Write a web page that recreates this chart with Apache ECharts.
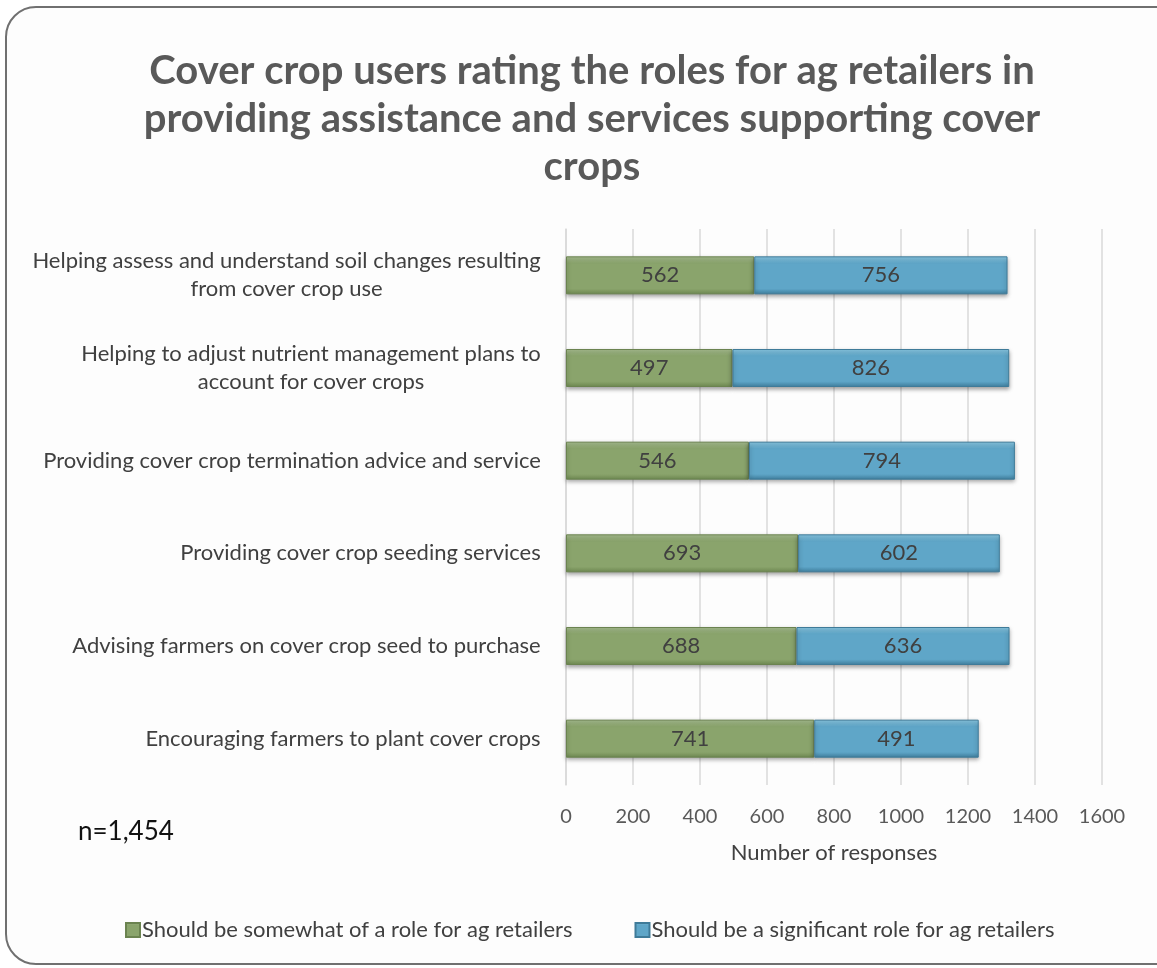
<!DOCTYPE html>
<html>
<head>
<meta charset="utf-8">
<script src="https://cdn.jsdelivr.net/npm/echarts@6/dist/echarts.min.js"></script>
<style>
  html, body { margin: 0; padding: 0; background: #fff; }
  #main { width: 1157px; height: 968px; }
</style>
</head>
<body>
<div id="main"></div>
<script>
// categories, top to bottom
var categories = [
  'Helping assess and understand soil changes resulting\nfrom cover crop use',
  'Helping to adjust nutrient management plans to\naccount for cover crops',
  'Providing cover crop termination advice and service',
  'Providing cover crop seeding services',
  'Advising farmers on cover crop seed to purchase',
  'Encouraging farmers to plant cover crops'
];
var somewhatRole = [562, 497, 546, 693, 688, 741];
var significantRole = [756, 826, 794, 602, 636, 491];
var seriesNames = [
  'Should be somewhat of a role for ag retailers',
  'Should be a significant role for ag retailers'
];
var xTicks = [0, 200, 400, 600, 800, 1000, 1200, 1400, 1600];

var FONT = 'Lato';
var myChart = echarts.init(document.getElementById('main'));

// measure label lines so that multi-line labels are centred line by line
var cv = document.createElement('canvas').getContext('2d');
cv.font = '22px ' + FONT;
var rich = {};
categories.forEach(function (c, i) {
  var w = 0;
  c.split('\n').forEach(function (l) { w = Math.max(w, cv.measureText(l).width); });
  rich['l' + i] = { width: Math.ceil(w) + 2, align: 'center', fontSize: 22, fontFamily: FONT, color: '#404040', lineHeight: 28 };
});

function barStyle(top, mid, bottom, border) {
  return {
    color: new echarts.graphic.LinearGradient(0, 0, 0, 1, [
      { offset: 0, color: top },
      { offset: 0.18, color: mid },
      { offset: 0.85, color: mid },
      { offset: 1, color: bottom }
    ]),
    borderColor: border,
    borderWidth: 1,
    shadowColor: 'rgba(0,0,0,0.35)',
    shadowBlur: 4,
    shadowOffsetY: 2
  };
}

var labelStyle = {
  show: true,
  position: 'inside',
  color: '#404040',
  fontSize: 22,
  fontFamily: FONT
};

var option = {
  animation: false,
  title: {
    text: 'Cover crop users rating the roles for ag retailers in\nproviding assistance and services supporting cover\ncrops',
    left: 587,
    top: 42,
    textAlign: 'center',
    textStyle: {
      fontSize: 40,
      fontWeight: 'bold',
      fontFamily: FONT,
      color: '#595959',
      lineHeight: 48
    }
  },
  graphic: [
    {
      type: 'rect',
      z: -10,
      shape: { x: 6, y: 7, width: 1180, height: 957, r: 30 },
      style: { fill: '#fdfdfd', stroke: '#707070', lineWidth: 2 }
    },
    {
      type: 'text',
      left: 78,
      top: 819,
      style: { text: 'n=1,454', fontSize: 26, fontFamily: FONT, fill: '#111' }
    }
  ],
  legend: {
    left: 120,
    top: 914,
    itemWidth: 14,
    itemHeight: 14,
    itemGap: 62,
    icon: 'rect',
    textStyle: { fontSize: 22, fontFamily: FONT, color: '#404040', padding: [0, 0, 0, -3] },
    data: seriesNames
  },
  grid: {
    left: 566,
    right: 55,
    top: 229,
    bottom: 183,
    containLabel: false
  },
  xAxis: {
    type: 'value',
    min: 0,
    max: 1600,
    interval: 200,
    name: 'Number of responses',
    nameLocation: 'middle',
    nameGap: 57,
    nameTextStyle: { fontSize: 22, fontFamily: FONT, color: '#404040' },
    axisLine: { show: false },
    axisTick: { show: false },
    axisLabel: {
      fontSize: 20,
      fontFamily: FONT,
      color: '#595959',
      margin: 22,
      formatter: function (v) { return xTicks.indexOf(v) >= 0 ? String(v) : ''; }
    },
    splitLine: { show: true, lineStyle: { color: '#d9d9d9', width: 1.5 } }
  },
  yAxis: {
    type: 'category',
    inverse: true,
    data: categories,
    axisLine: { show: true, lineStyle: { color: '#d9d9d9', width: 1.5 } },
    axisTick: { show: false },
    axisLabel: {
      margin: 24,
      align: 'right',
      formatter: function (v, i) {
        return v.split('\n').map(function (l) { return '{l' + i + '|' + l + '}'; }).join('\n');
      },
      rich: rich
    }
  },
  series: [
    {
      name: seriesNames[0],
      type: 'bar',
      stack: 'total',
      barWidth: 38,
      data: somewhatRole,
      itemStyle: barStyle('#a9c092', '#8aa46c', '#6f8a52', '#6b8350'),
      label: labelStyle
    },
    {
      name: seriesNames[1],
      type: 'bar',
      stack: 'total',
      barWidth: 38,
      data: significantRole,
      itemStyle: barStyle('#8ccbe6', '#5fa6c8', '#40809f', '#3f7b99'),
      label: labelStyle
    }
  ]
};

myChart.setOption(option);
</script>
</body>
</html>
